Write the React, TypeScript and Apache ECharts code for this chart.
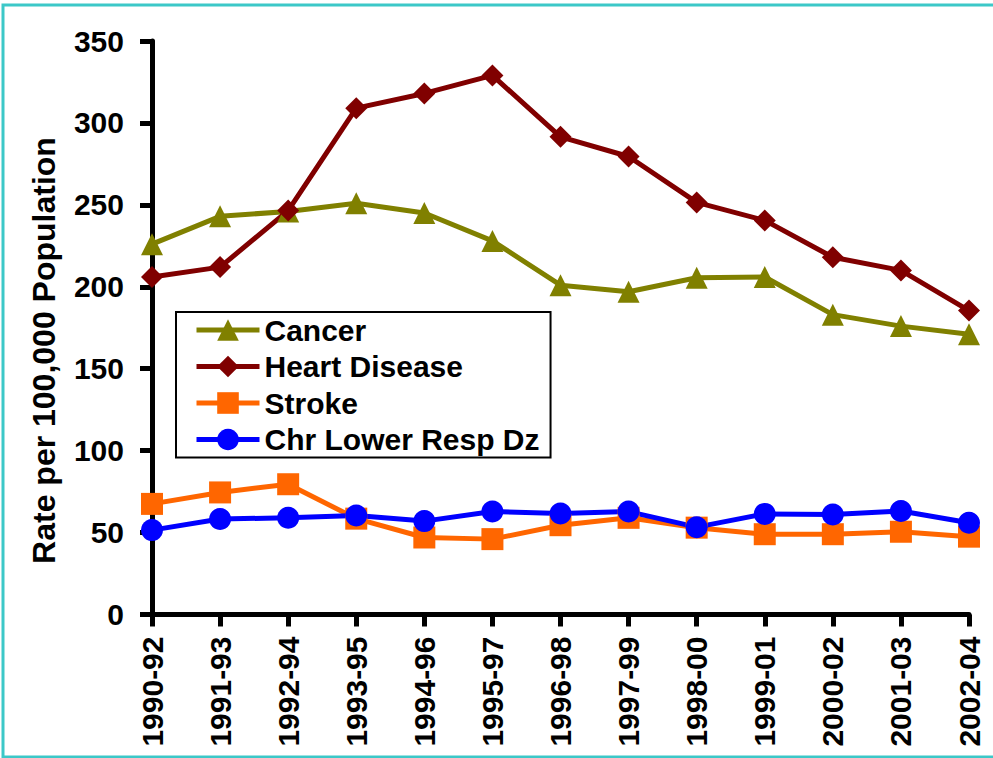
import React, { useEffect, useRef } from "react";
import * as echarts from "echarts";

const categories = [
  "1990-92", "1991-93", "1992-94", "1993-95", "1994-96", "1995-97", "1996-98",
  "1997-99", "1998-00", "1999-01", "2000-02", "2001-03", "2002-04",
];
const cancer = [226, 243, 246, 251, 245, 228, 201, 197, 205.5, 206, 183, 176, 171];
const heartDisease = [206, 212, 246.5, 309, 318, 329, 291.5, 279.5, 251.5, 240.5, 218, 210, 185.5];
const stroke = [67.5, 74.5, 79.5, 58.5, 47, 46, 54.5, 59, 53, 49, 49, 50.5, 47.5];
const chrLowerResp = [51.5, 58.3, 59, 60.4, 57, 62.8, 61.6, 62.8, 53.3, 61.4, 61, 63.2, 56];
const yTicks = { min: 0, max: 350, interval: 50 };
const yAxisTitle = "Rate per 100,000 Population";

const FONT = "'Liberation Sans', Arial, sans-serif";

export default function App() {
  const ref = useRef<HTMLDivElement>(null);
  useEffect(() => {
    if (!ref.current) return;
    const chart = echarts.init(ref.current, undefined, { renderer: "svg" });
    const mk = (name: string, data: number[], color: string, symbol: string) => ({
      name,
      type: "line",
      data,
      symbol,
      symbolSize: 22,
      lineStyle: { color, width: 5 },
      itemStyle: { color },
      emphasis: { disabled: true },
    });
    chart.setOption({
      animation: false,
      backgroundColor: "#ffffff",
      textStyle: { fontFamily: FONT },
      grid: {
        left: 152,
        right: 24,
        top: 41,
        bottom: 143.5,
        containLabel: false,
        outerBoundsMode: "none",
      },
      legend: {
        orient: "vertical",
        left: 176,
        top: 312,
        padding: [3, 11, 3, 18],
        itemGap: 6.5,
        itemWidth: 63,
        itemHeight: 27,
        borderColor: "#000",
        borderWidth: 2,
        backgroundColor: "#fff",
        lineStyle: { width: 5 },
        textStyle: { fontFamily: FONT, fontWeight: "bold", fontSize: 30, color: "#000" },
        data: ["Cancer", "Heart Disease", "Stroke", "Chr Lower Resp Dz"],
      },
      xAxis: {
        type: "category",
        data: categories,
        boundaryGap: false,
        axisLine: { lineStyle: { color: "#000", width: 5 } },
        axisTick: { show: true, length: 12, lineStyle: { color: "#000", width: 5 } },
        axisLabel: {
          rotate: 90,
          margin: 22,
          fontFamily: FONT,
          fontWeight: "bold",
          fontSize: 30,
          color: "#000",
        },
        splitLine: { show: false },
      },
      yAxis: {
        type: "value",
        min: yTicks.min,
        max: yTicks.max,
        interval: yTicks.interval,
        axisLine: { show: true, lineStyle: { color: "#000", width: 5 } },
        axisTick: { show: true, length: 12, lineStyle: { color: "#000", width: 5 } },
        axisLabel: {
          margin: 28,
          fontFamily: FONT,
          fontWeight: "bold",
          fontSize: 30,
          color: "#000",
        },
        splitLine: { show: false },
      },
      graphic: [
        {
          type: "rect",
          shape: { x: 3, y: 5, width: 1000, height: 752 },
          style: { fill: "none", stroke: "#3CC8C8", lineWidth: 3 },
          silent: true,
        },
        {
          type: "text",
          x: 44,
          y: 350.5,
          rotation: Math.PI / 2,
          style: {
            text: yAxisTitle,
            fontFamily: FONT,
            fontWeight: "bold",
            fontSize: 32,
            fill: "#000",
            align: "center",
            verticalAlign: "middle",
          },
        },
      ],
      series: [
        mk("Cancer", cancer, "#808000", "triangle"),
        mk("Heart Disease", heartDisease, "#800000", "diamond"),
        mk("Stroke", stroke, "#FF6600", "rect"),
        mk("Chr Lower Resp Dz", chrLowerResp, "#0000FF", "circle"),
      ],
    });
    return () => chart.dispose();
  }, []);
  return (
    <div
      ref={ref}
      style={{ position: "absolute", left: 0, top: 0, width: 993, height: 758 }}
    />
  );
}
